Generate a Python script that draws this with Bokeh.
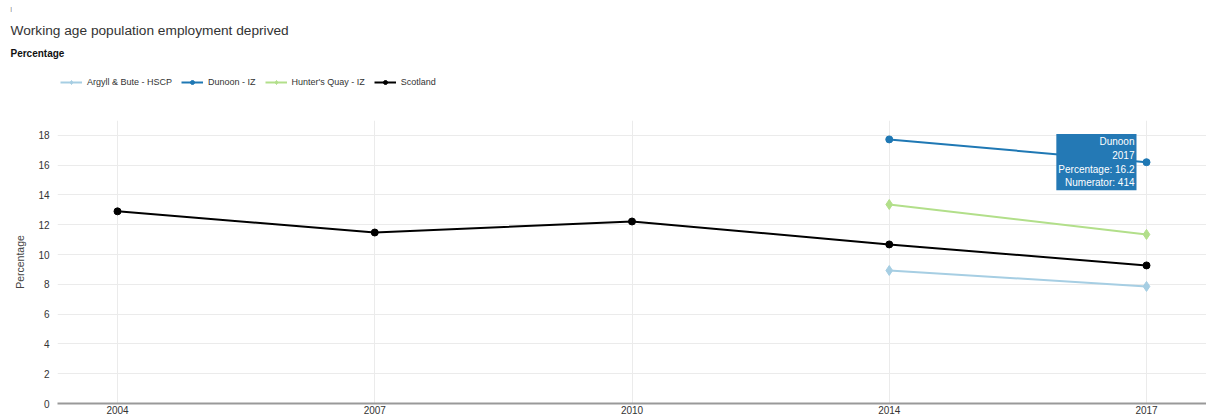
from bokeh.plotting import figure
from bokeh.layouts import column
from bokeh.models import Label, Legend, LegendItem, FixedTicker, SingleIntervalTicker, Range1d, Title
from bokeh.embed import file_html
from bokeh.resources import INLINE

# ---- data ----
years = ["2004", "2007", "2010", "2014", "2017"]

argyll_years = ["2014", "2017"]
argyll_vals = [8.93, 7.86]

dunoon_years = ["2014", "2017"]
dunoon_vals = [17.73, 16.2]

hunters_years = ["2014", "2017"]
hunters_vals = [13.36, 11.35]

scotland_years = ["2004", "2007", "2010", "2014", "2017"]
scotland_vals = [12.9, 11.48, 12.22, 10.68, 9.27]

tooltip_lines = ["Dunoon", "2017", "Percentage: 16.2", "Numerator: 414"]

series = [
    ("Argyll & Bute - HSCP", argyll_years, argyll_vals, "#a6cee3", "diamond", 10),
    ("Dunoon - IZ", dunoon_years, dunoon_vals, "#1f78b4", "circle", 7),
    ("Hunter's Quay - IZ", hunters_years, hunters_vals, "#b2df8a", "diamond", 10),
    ("Scotland", scotland_years, scotland_vals, "#000000", "circle", 7),
]

FONT = "Liberation Sans"
W = 1206
LEFT = 57
HEAD_TOP = 60      # height of the title area above the legend strip
LEG_H = 60         # legend strip height

# ---------------- header figure (title, subtitle, legend) ----------------
head = figure(
    frame_width=W - LEFT, frame_height=LEG_H,
    min_border_left=LEFT, min_border_right=0, min_border_top=HEAD_TOP, min_border_bottom=0,
    x_range=Range1d(0, 1), y_range=Range1d(0, 1),
    x_axis_location=None, y_axis_location=None,
    output_backend="svg", toolbar_location=None, title=None,
)
head.grid.visible = False
head.outline_line_color = None
head.border_fill_color = "white"

# first added = closest to the frame
head.add_layout(Title(text="Percentage", align="left", offset=10 - LEFT, standoff=4,
                      text_font=FONT, text_font_size="10px", text_font_style="bold",
                      text_color="#111111"), "above")
head.add_layout(Title(text="Working age population employment deprived", align="left",
                      offset=10 - LEFT, standoff=12,
                      text_font=FONT, text_font_size="13.7px", text_font_style="normal",
                      text_color="#333333"), "above")
head.add_layout(Title(text="|", align="left", offset=10 - LEFT, standoff=5,
                      text_font=FONT, text_font_size="5px", text_font_style="normal",
                      text_color="#333333"), "above")

nan = float("nan")
items = []
for name, yrs, vals, color, marker, size in series:
    rl = head.line(x=[nan], y=[nan], line_color=color, line_width=2)
    rs = head.scatter(x=[nan], y=[nan], marker=marker, size=size, fill_color=color, line_color=color)
    items.append(LegendItem(label=name, renderers=[rl, rs]))

legend = Legend(
    items=items, orientation="horizontal", location=(60 - LEFT, 33),
    padding=0, margin=0, spacing=9, glyph_width=22, glyph_height=10,
    label_height=10, label_standoff=5,
    label_text_font=FONT, label_text_font_size="9px", label_text_color="#333333",
    border_line_color=None, background_fill_alpha=0,
)
head.add_layout(legend)

# ---------------- main chart ----------------
frame_w = W - LEFT
frame_h = 283
unit = (1146 - 117) / (len(years) - 1)
x_start = -(117 - LEFT) / unit
x_end = x_start + frame_w / unit

p = figure(
    frame_width=frame_w, frame_height=frame_h,
    min_border_left=LEFT, min_border_right=0, min_border_top=0, min_border_bottom=15,
    x_range=Range1d(x_start, x_end), y_range=Range1d(0, 19),
    output_backend="svg", toolbar_location=None, title=None,
)
p.outline_line_color = None
p.background_fill_color = "white"
p.border_fill_color = "white"

p.xaxis.ticker = FixedTicker(ticks=list(range(len(years))))
p.xaxis.major_label_overrides = {i: y for i, y in enumerate(years)}
p.xaxis.axis_line_color = "#999999"
p.xaxis.axis_line_width = 2
p.xaxis.major_tick_line_color = None
p.xaxis.major_tick_out = 0
p.xaxis.major_tick_in = 0
p.xaxis.minor_tick_line_color = None
p.xaxis.major_label_text_font = FONT
p.xaxis.major_label_text_font_size = "10px"
p.xaxis.major_label_text_color = "#333333"
p.xaxis.major_label_standoff = 2

p.yaxis.ticker = SingleIntervalTicker(interval=2)
p.yaxis.axis_line_color = None
p.yaxis.major_tick_line_color = None
p.yaxis.major_tick_out = 0
p.yaxis.major_tick_in = 0
p.yaxis.minor_tick_line_color = None
p.yaxis.major_label_text_font = FONT
p.yaxis.major_label_text_font_size = "10px"
p.yaxis.major_label_text_color = "#333333"
p.yaxis.major_label_standoff = 4
p.yaxis.axis_label = "Percentage"
p.yaxis.axis_label_text_font = FONT
p.yaxis.axis_label_text_font_size = "10.5px"
p.yaxis.axis_label_text_font_style = "normal"
p.yaxis.axis_label_text_color = "#444444"
p.yaxis.axis_label_standoff = 9

p.xgrid.ticker = FixedTicker(ticks=list(range(len(years))))
p.xgrid.grid_line_color = "#ebebeb"
p.ygrid.grid_line_color = "#ebebeb"

for name, yrs, vals, color, marker, size in series:
    xs = [years.index(y) for y in yrs]
    p.line(xs, vals, line_color=color, line_width=2)
    p.scatter(xs, vals, marker=marker, size=size, fill_color=color, line_color=color)

p.add_layout(Label(x=years.index(dunoon_years[-1]), y=dunoon_vals[-1],
                   x_offset=-10, y_offset=0,
                   text="\n".join(tooltip_lines), text_font=FONT, text_font_size="10px",
                   text_color="white", text_align="right", text_baseline="middle",
                   text_line_height=1.25,
                   background_fill_color="#2479b5", background_fill_alpha=1.0,
                   padding=2))

layout = column(head, p, spacing=0)
open("out.html", "w").write(file_html(layout, INLINE))
